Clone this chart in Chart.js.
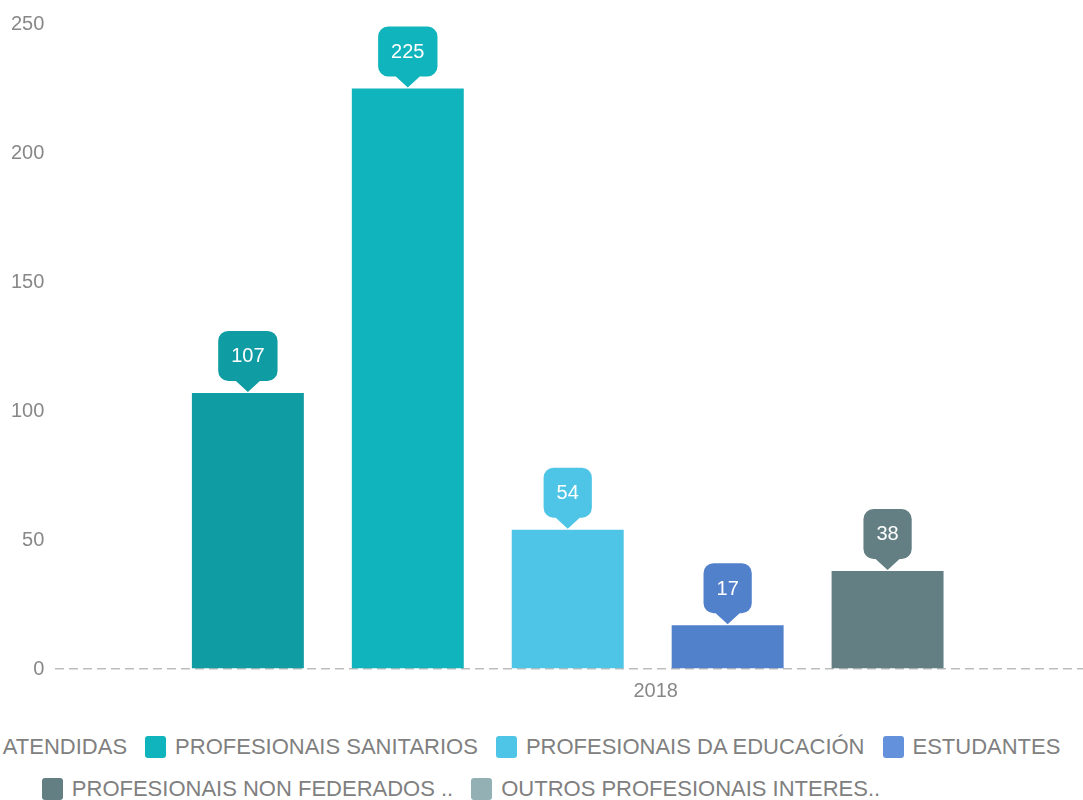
<!DOCTYPE html>
<html>
<head>
<meta charset="utf-8">
<script src="https://cdn.jsdelivr.net/npm/chart.js@4.4.1/dist/chart.umd.min.js"></script>
<style>
  html, body { margin: 0; padding: 0; background: #fff; overflow: hidden; width: 1083px; height: 800px; }
  #wrap { position: absolute; left: 0; top: 0; width: 1240px; height: 721px; }
  #legend {
    position: absolute; top: 726px; left: -189px; width: 1300px;
    display: flex; flex-wrap: wrap; justify-content: center; column-gap: 18px;
    font: 22px "Liberation Sans", Arial, sans-serif; color: #808080;
  }
  .item { display: flex; align-items: center; height: 42px; white-space: nowrap; }
  .box { width: 21px; height: 22px; border-radius: 3px; margin-right: 9px; }
</style>
</head>
<body>
<div id="wrap"><canvas id="chart"></canvas></div>
<div id="legend"></div>
<script>
  // data
  const categories = ["2018"];
  const seriesNames = [
    "PERSOAS ATENDIDAS",
    "PROFESIONAIS SANITARIOS",
    "PROFESIONAIS DA EDUCACIÓN",
    "ESTUDANTES",
    "PROFESIONAIS NON FEDERADOS ..",
    "OUTROS PROFESIONAIS INTERES.."
  ];
  const seriesValues = [107, 225, 54, 17, 38, 0];
  const yTicks = [0, 50, 100, 150, 200, 250];

  // styles
  const barColors = ["#109CA3", "#10B4BC", "#4EC5E6", "#5281CB", "#637F84", "#93B0B4"];
  const legendColors = ["#109CA3", "#10B4BC", "#4EC5E6", "#6391DC", "#637F84", "#93B0B4"];
  const FONT = '"Liberation Sans", Arial, sans-serif';

  // callout bubbles above each bar
  const calloutPlugin = {
    id: "callouts",
    afterDatasetsDraw(chart) {
      const ctx = chart.ctx;
      chart.data.datasets.forEach((ds, i) => {
        const meta = chart.getDatasetMeta(i);
        if (meta.hidden) return;
        meta.data.forEach((bar, j) => {
          const v = ds.data[j];
          if (!v) return;
          const txt = String(v);
          ctx.save();
          ctx.font = "20px " + FONT;
          const w = ctx.measureText(txt).width + 26;
          const h = 50, tip = 11, half = 12, r = 10;
          const x = bar.x, yTip = bar.y - 1;
          const bottom = yTip - tip, top = bottom - h;
          const left = x - w / 2, right = x + w / 2;
          ctx.beginPath();
          ctx.moveTo(left + r, top);
          ctx.lineTo(right - r, top);
          ctx.arcTo(right, top, right, top + r, r);
          ctx.lineTo(right, bottom - r);
          ctx.arcTo(right, bottom, right - r, bottom, r);
          ctx.lineTo(x + half, bottom);
          ctx.lineTo(x, yTip);
          ctx.lineTo(x - half, bottom);
          ctx.lineTo(left + r, bottom);
          ctx.arcTo(left, bottom, left, bottom - r, r);
          ctx.lineTo(left, top + r);
          ctx.arcTo(left, top, left + r, top, r);
          ctx.closePath();
          ctx.fillStyle = ds.backgroundColor;
          ctx.fill();
          ctx.fillStyle = "#ffffff";
          ctx.textAlign = "center";
          ctx.textBaseline = "middle";
          ctx.fillText(txt, x, top + h / 2 + 1);
          ctx.restore();
        });
      });
    }
  };

  const datasets = seriesNames.map((name, i) => ({
    label: name,
    data: [seriesValues[i]],
    backgroundColor: barColors[i],
    borderWidth: 0,
    categoryPercentage: 0.81,
    barPercentage: 0.7
  }));

  new Chart(document.getElementById("chart"), {
    type: "bar",
    data: { labels: categories, datasets },
    plugins: [calloutPlugin],
    options: {
      responsive: true,
      maintainAspectRatio: false,
      animation: false,
      events: [],
      layout: { padding: { top: 24, left: 0, right: 0, bottom: 8 } },
      plugins: {
        legend: { display: false },
        tooltip: { enabled: false }
      },
      scales: {
        x: {
          grid: { display: false, drawTicks: false },
          border: { display: false },
          ticks: { color: "#888", font: { size: 20, family: FONT }, padding: 10, labelOffset: 8 }
        },
        y: {
          min: yTicks[0],
          max: yTicks[yTicks.length - 1],
          afterBuildTicks: (scale) => { scale.ticks = yTicks.map(v => ({ value: v })); },
          grid: {
            drawTicks: false,
            lineWidth: 1.5,
            color: (c) => (c.tick && c.tick.value === 0 ? "#bdbdbd" : "rgba(0,0,0,0)")
          },
          border: { display: false, dash: [9, 5] },
          ticks: { color: "#888", font: { size: 20, family: FONT }, padding: 11 }
        }
      }
    }
  });

  // html legend
  const legendEl = document.getElementById("legend");
  seriesNames.forEach((name, i) => {
    const item = document.createElement("div");
    item.className = "item";
    const box = document.createElement("span");
    box.className = "box";
    box.style.background = legendColors[i];
    const label = document.createElement("span");
    label.textContent = name;
    item.appendChild(box);
    item.appendChild(label);
    legendEl.appendChild(item);
  });
</script>
</body>
</html>
